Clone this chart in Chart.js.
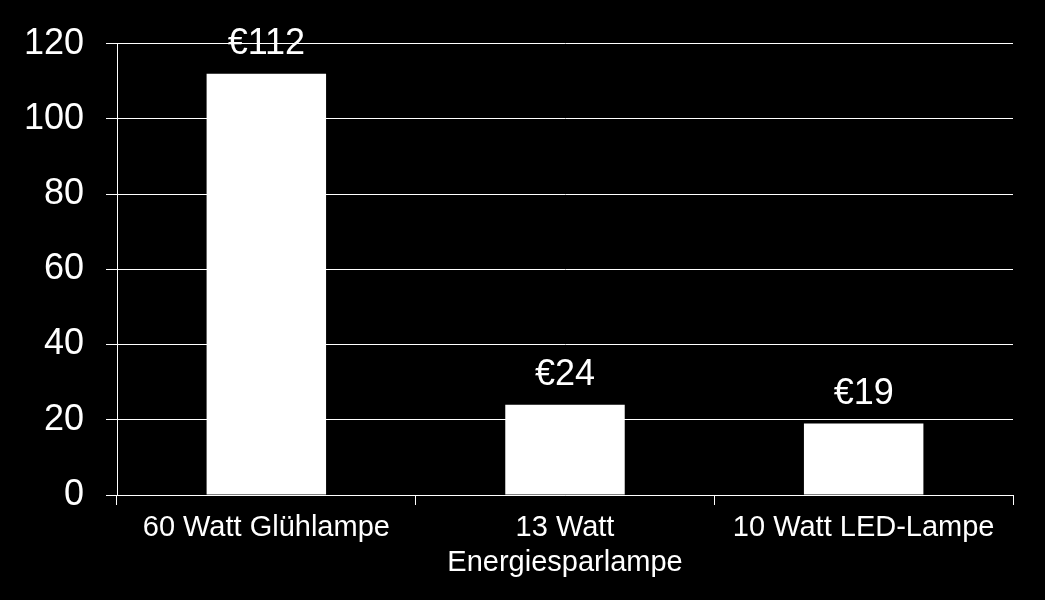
<!DOCTYPE html>
<html>
<head>
<meta charset="utf-8">
<script src="https://cdn.jsdelivr.net/npm/chart.js@4/dist/chart.umd.min.js"></script>
<style>
  html, body { margin: 0; padding: 0; background: #000; }
  #wrap { width: 1045px; height: 600px; position: relative; }
</style>
</head>
<body>
<div id="wrap"><canvas id="c"></canvas></div>
<script>
const categories = ["60 Watt Glühlampe", ["13 Watt", "Energiesparlampe"], "10 Watt LED-Lampe"];
const costs = [112, 24, 19];
const currency = "€";
const yMin = 0, yMax = 120, yStep = 20;

const FONT = "'Liberation Sans', Arial, sans-serif";

const valueLabels = {
  id: 'valueLabels',
  afterDatasetsDraw(chart) {
    const ctx = chart.ctx;
    const meta = chart.getDatasetMeta(0);
    ctx.save();
    ctx.fillStyle = '#fff';
    ctx.font = '36px ' + FONT;
    ctx.textAlign = 'center';
    ctx.textBaseline = 'alphabetic';
    meta.data.forEach((bar, i) => {
      ctx.fillText(currency + costs[i], bar.x, bar.y - 20);
    });
    ctx.restore();
  }
};

new Chart(document.getElementById('c'), {
  type: 'bar',
  data: {
    labels: categories,
    datasets: [{
      data: costs,
      backgroundColor: '#ffffff',
      borderWidth: 0,
      barPercentage: 0.4,
      categoryPercentage: 1.0
    }]
  },
  options: {
    responsive: true,
    maintainAspectRatio: false,
    animation: false,
    devicePixelRatio: 1,
    layout: { padding: { left: 0, right: 32, top: 40, bottom: 0 } },
    plugins: { legend: { display: false }, tooltip: { enabled: false } },
    scales: {
      x: {
        grid: { color: '#fff', lineWidth: 1, drawOnChartArea: false, drawTicks: true, tickLength: 10, offset: true },
        border: { display: true, color: '#fff', width: 1 },
        ticks: { color: '#fff', font: { family: FONT, size: 29, lineHeight: 1.2 }, padding: 6, maxRotation: 0, autoSkip: false },
        afterFit(scale) { scale.height = 105; }
      },
      y: {
        min: yMin, max: yMax,
        grid: { color: '#fff', lineWidth: 1, drawTicks: true, tickLength: 11 },
        border: { display: true, color: '#fff', width: 1 },
        ticks: { color: '#fff', stepSize: yStep, font: { family: FONT, size: 36 }, padding: 22 },
        afterFit(scale) { scale.width = 117; }
      }
    }
  },
  plugins: [valueLabels]
});
</script>
</body>
</html>
